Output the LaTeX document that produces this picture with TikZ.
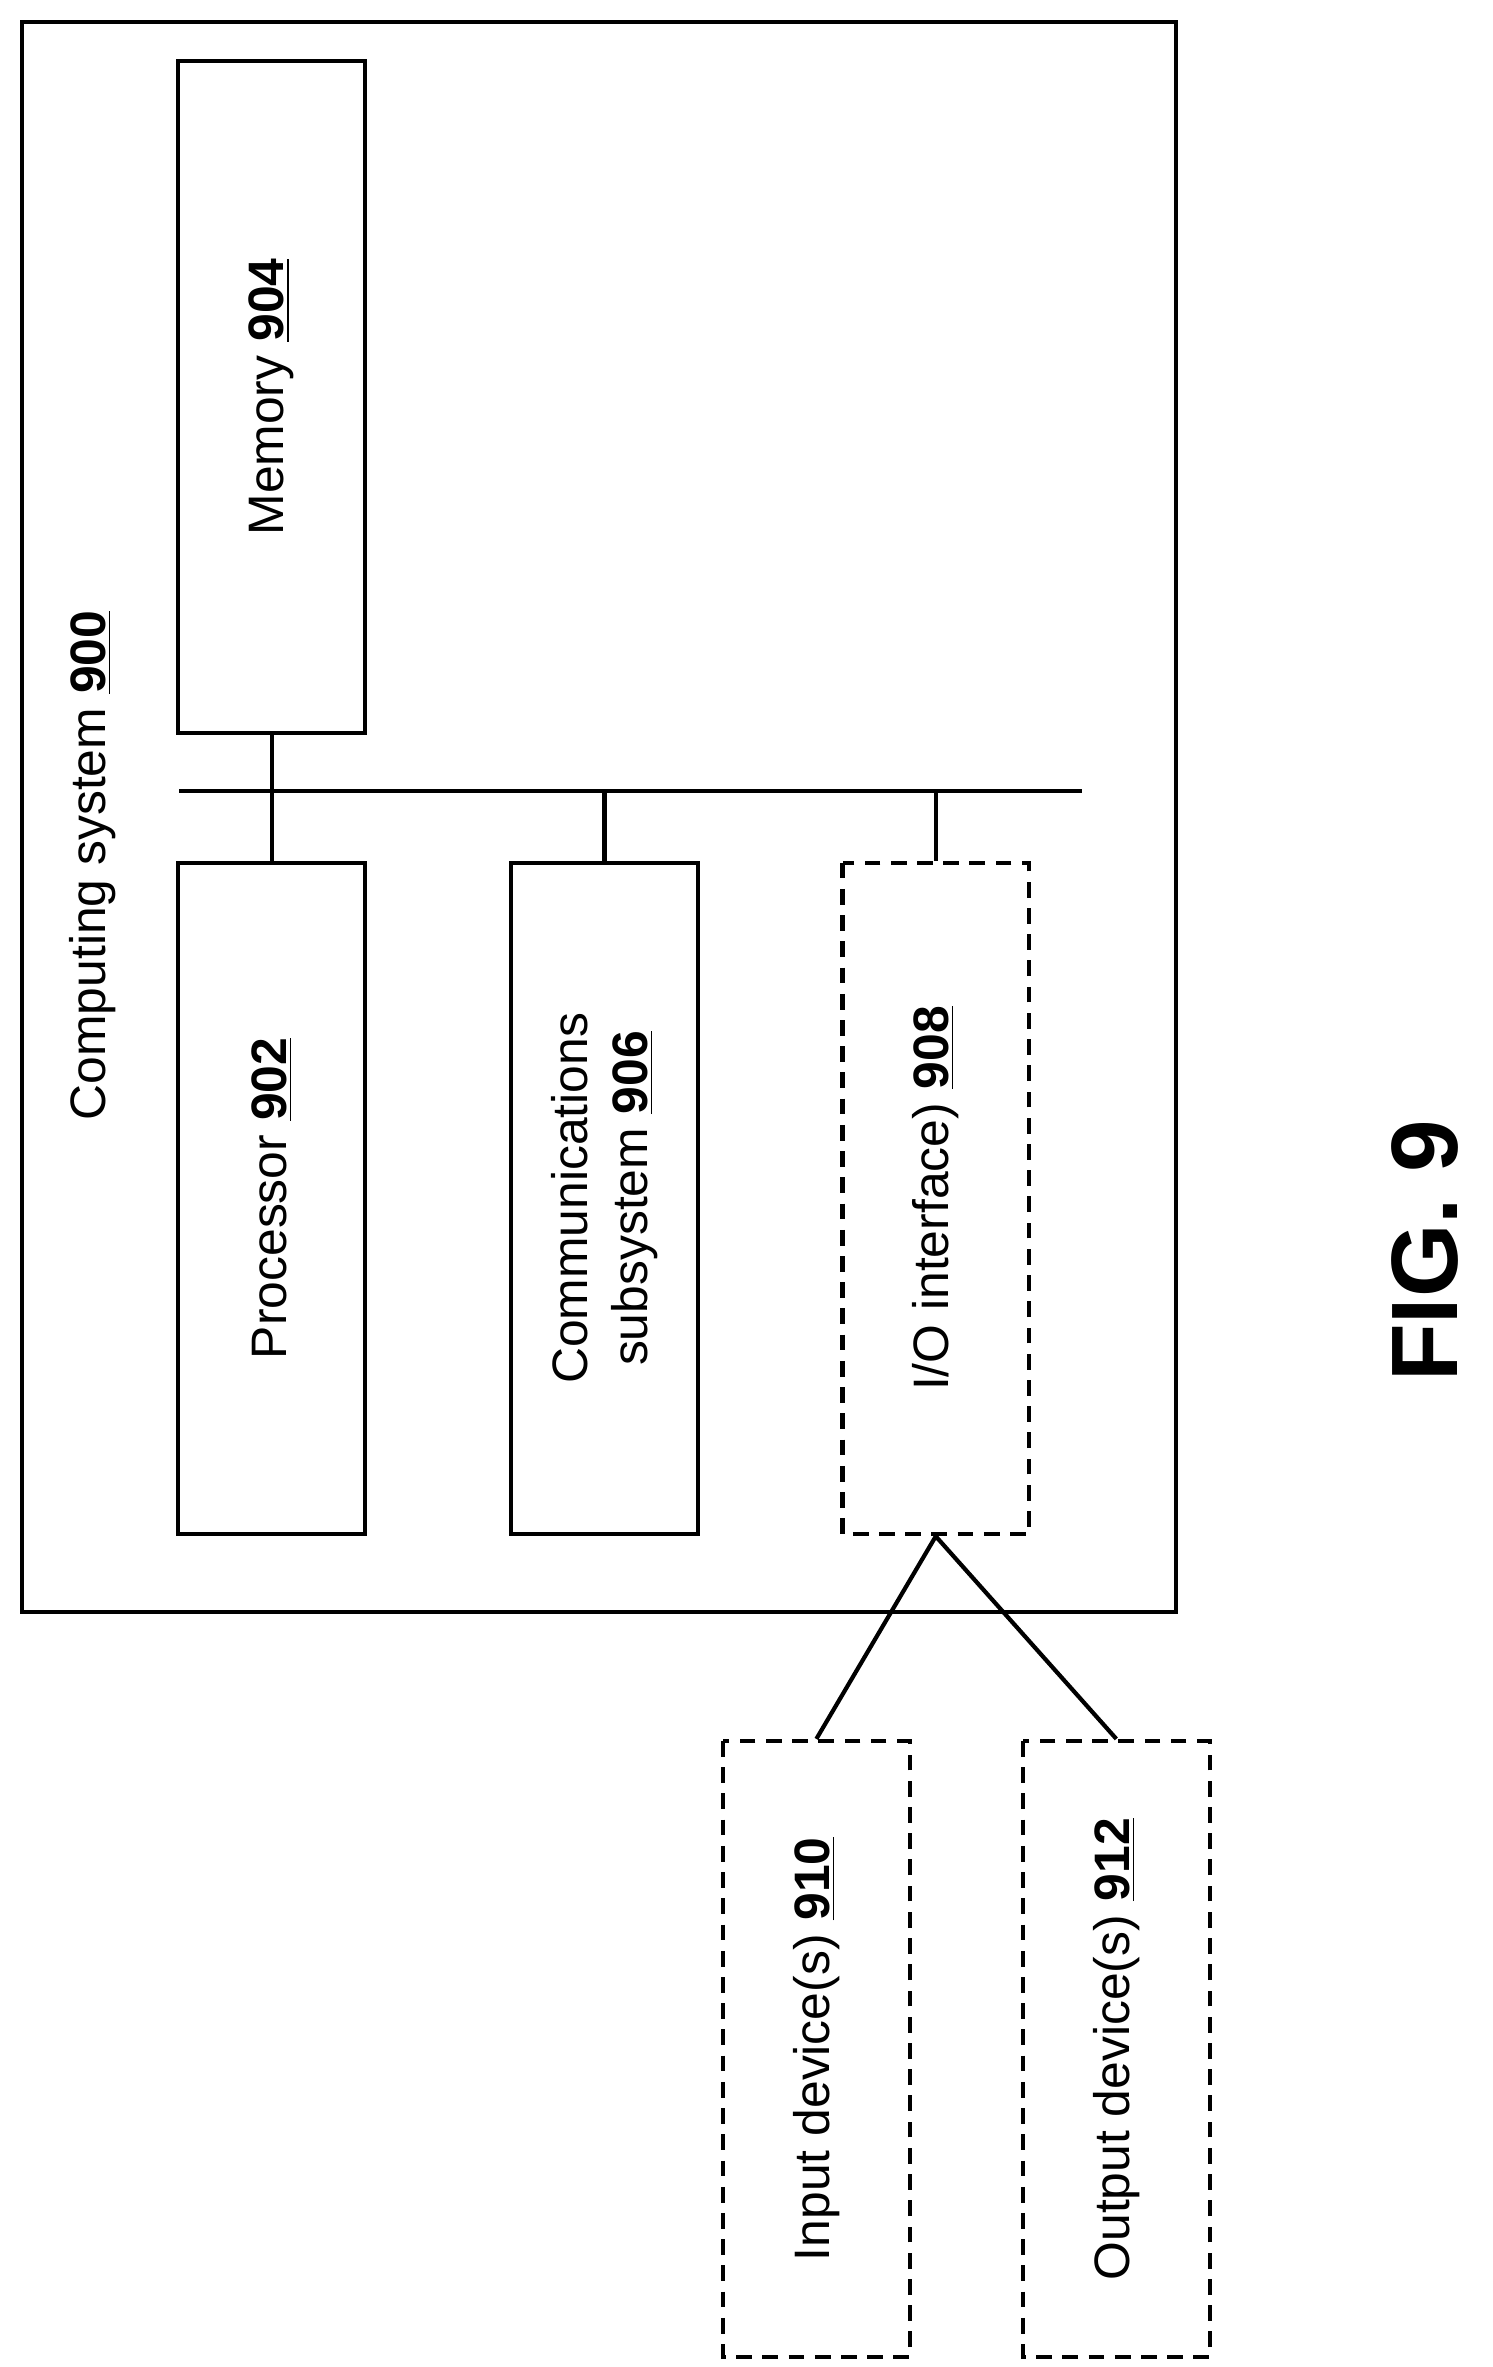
\documentclass[tikz,border=0pt]{standalone}
\usepackage{fontspec}
\setmainfont{Liberation Sans}
\usetikzlibrary{positioning}
\newcommand{\refnum}[1]{\underline{\textbf{#1}}}
\begin{document}
\begin{tikzpicture}[x=0.02cm, y=-0.02cm,
    box/.style={draw, line width=1.6pt, rotate=90, minimum width=9cm, minimum height=2.5cm,
        align=center, font=\fontsize{19}{23}\selectfont, inner sep=0pt},
    dbox/.style={box, dashed, dash pattern=on 6pt off 4pt},
    wire/.style={line width=1.6pt}]
    \useasboundingbox (0,0) rectangle (1000,1586);
    % outer system box
    \draw[wire] (15,15) rectangle (788,1080);
    \node[rotate=90, font=\fontsize{19}{23}\selectfont] (sys) at (62,580) {Computing system \refnum{900}};

    % components
    \node[box] (mem) at (182,266) {Memory \refnum{904}};
    \node[box] (proc) at (182,803) {Processor \refnum{902}};
    \node[box] (comm) at (405,803) {Communications\\subsystem \refnum{906}};
    \node[dbox] (io) at (627,803) {I/O interface) \refnum{908}};
    \node[dbox, minimum width=8.26cm] (in) at (547,1373) {Input device(s) \refnum{910}};
    \node[dbox, minimum width=8.26cm] (out) at (748,1373) {Output device(s) \refnum{912}};

    % bus
    \coordinate (busl) at (120,530);
    \coordinate (busr) at (725,530);
    \draw[wire] (busl) -- (busr);
    \draw[wire] (mem.west) -- (proc.east);
    \draw[wire] (comm.east) -- (comm.east |- busl);
    \draw[wire] (io.east) -- (io.east |- busl);

    % peripherals
    \draw[wire] (in.east) -- (io.west) -- (out.east);

    \node[rotate=90, font=\fontsize{36}{40}\selectfont\bfseries] (fig) at (955,838) {FIG. 9};
\end{tikzpicture}
\end{document}
